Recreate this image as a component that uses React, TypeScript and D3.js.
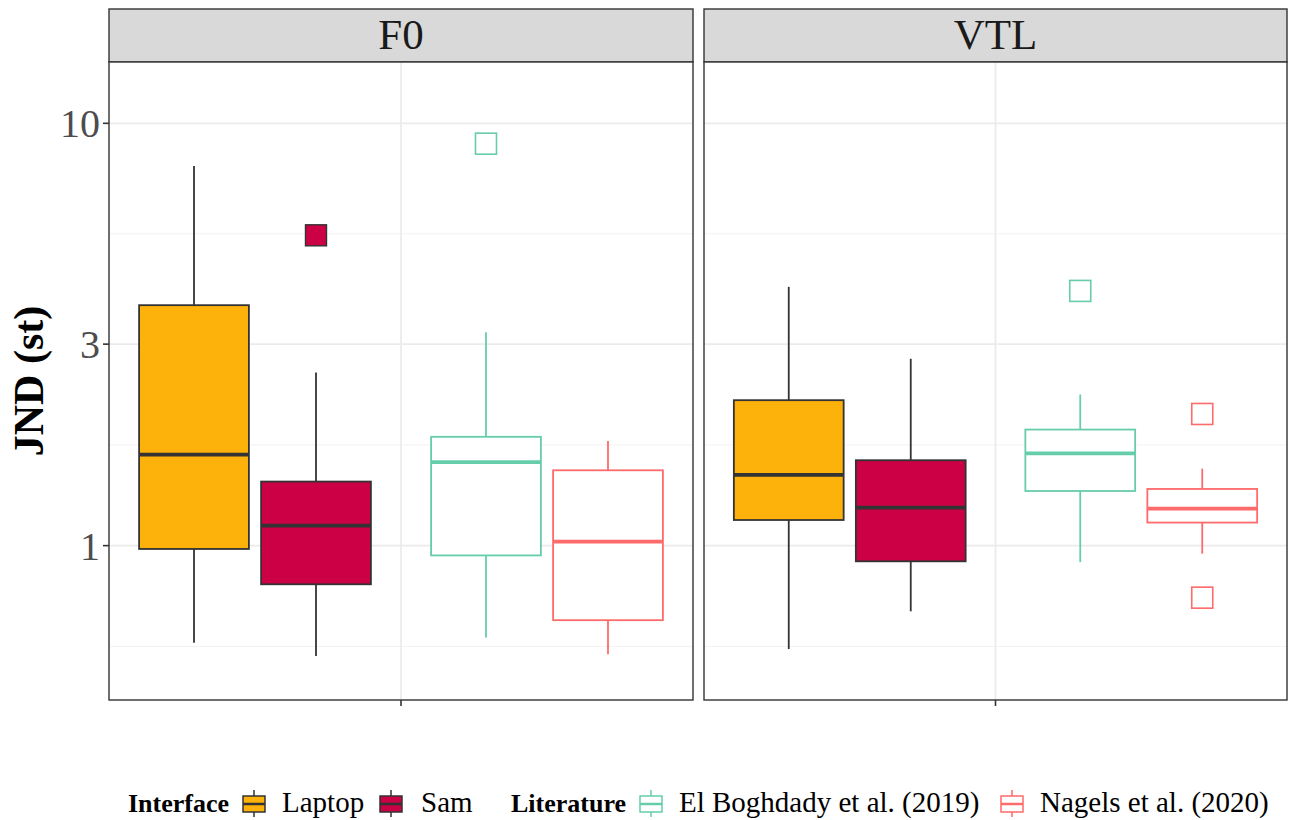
import React from 'react';
import * as d3 from 'd3';

// ---- data ----
const facets = ['F0', 'VTL'];
const groups = ['Interface', 'Literature'];
const seriesNames = ['Laptop', 'Sam', 'El Boghdady et al. (2019)', 'Nagels et al. (2020)'];
const seriesGroup = ['Interface', 'Interface', 'Literature', 'Literature'];

// [ymin, lower, middle, upper, ymax]
const f0Stats = [
  [0.589, 0.982, 1.643, 3.71, 7.92],
  [0.548, 0.81, 1.115, 1.418, 2.57],
  [0.606, 0.948, 1.576, 1.81, 3.2],
  [0.553, 0.666, 1.022, 1.508, 1.77],
];
const vtlStats = [
  [0.569, 1.15, 1.47, 2.21, 4.1],
  [0.699, 0.918, 1.23, 1.593, 2.77],
  [0.914, 1.347, 1.654, 1.883, 2.28],
  [0.957, 1.134, 1.224, 1.362, 1.522],
];
const f0Outliers = [[], [5.43], [8.95], []];
const vtlOutliers = [[], [], [4.01], [2.05, 0.753]];

const yBreaks = [1, 3, 10];
const yLimits = [0.431, 13.97];

// ---- styling ----
const fills = ['#FDB10B', '#CC0044', 'none', 'none'];
const strokes = ['#333333', '#333333', '#66CDAA', '#FF6A6A'];
const FONT = '"Liberation Serif", "Times New Roman", serif';

const W = 1291;
const H = 820;
const panelTop = 62;
const panelBottom = 700;
const stripTop = 9;
const panels = [
  { x0: 109, x1: 693 },
  { x0: 704, x1: 1287 },
];

const App: React.FC = () => {
  const y = d3.scaleLog().domain(yLimits).range([panelBottom, panelTop]);
  const ext = [1 / 3, ...yBreaks];
  const minorBreaks = d3.pairs(ext).map(([a, b]) => Math.sqrt(a * b));

  const statsByFacet = [f0Stats, vtlStats];
  const outliersByFacet = [f0Outliers, vtlOutliers];

  // legend layout
  const legendItems = [
    { title: 'Interface', tx: 128, items: [{ i: 0, kx: 243, lx: 282 }, { i: 1, kx: 380, lx: 421 }] },
    { title: 'Literature', tx: 511, items: [{ i: 2, kx: 640, lx: 679 }, { i: 3, kx: 1001, lx: 1040 }] },
  ];

  return (
    <svg width={W} height={H} style={{ position: 'absolute', left: 0, top: 0, background: '#fff' }} fontFamily={FONT}>
      <rect width={W} height={H} fill="#fff" />
      {facets.map((facet, fi) => {
        const p = panels[fi];
        const outer = d3.scaleBand<string>().domain(groups).range([p.x0, p.x1]);
        const cx = (p.x0 + p.x1) / 2;
        const stats = statsByFacet[fi];
        const outs = outliersByFacet[fi];
        return (
          <g key={facet}>
            {/* strip */}
            <rect x={p.x0} y={stripTop} width={p.x1 - p.x0} height={panelTop - stripTop} fill="#D9D9D9" stroke="#333" strokeWidth={1.4} />
            <text x={cx} y={49} textAnchor="middle" fontSize={43} fill="#1A1A1A">{facet}</text>
            {/* panel background + grid */}
            <rect x={p.x0} y={panelTop} width={p.x1 - p.x0} height={panelBottom - panelTop} fill="#fff" />
            {minorBreaks.map((b) => (
              <line key={'mi' + b} x1={p.x0} x2={p.x1} y1={y(b)} y2={y(b)} stroke="#F2F2F2" strokeWidth={1} />
            ))}
            {yBreaks.map((b) => (
              <line key={'ma' + b} x1={p.x0} x2={p.x1} y1={y(b)} y2={y(b)} stroke="#EBEBEB" strokeWidth={1.8} />
            ))}
            <line x1={cx} x2={cx} y1={panelTop} y2={panelBottom} stroke="#EBEBEB" strokeWidth={1.8} />
            {/* boxes */}
            {seriesNames.map((s, si) => {
              const g = seriesGroup[si];
              const members = seriesNames.filter((_, k) => seriesGroup[k] === g);
              const gc = (outer(g) as number) + outer.bandwidth() / 2;
              const inner = d3.scaleBand<string>().domain(members).range([gc - 122, gc + 122]).paddingInner(0.1).paddingOuter(0.05);
              const bx = inner(s) as number;
              const bw = inner.bandwidth();
              const mx = bx + bw / 2;
              const [ymin, lo, mid, up, ymax] = stats[si];
              const col = strokes[si];
              const filled = fills[si] !== 'none';
              return (
                <g key={s}>
                  <line x1={mx} x2={mx} y1={y(up)} y2={y(ymax)} stroke={col} strokeWidth={1.8} />
                  <line x1={mx} x2={mx} y1={y(lo)} y2={y(ymin)} stroke={col} strokeWidth={1.8} />
                  <rect x={bx} y={y(up)} width={bw} height={y(lo) - y(up)} fill={filled ? fills[si] : '#fff'} stroke={col} strokeWidth={1.8} />
                  <line x1={bx} x2={bx + bw} y1={y(mid)} y2={y(mid)} stroke={col} strokeWidth={3.8} />
                  {outs[si].map((o, oi) => (
                    <rect
                      key={oi}
                      x={mx - 10.5}
                      y={y(o) - 10.5}
                      width={21}
                      height={21}
                      fill={filled ? fills[si] : 'none'}
                      stroke={col}
                      strokeWidth={filled ? 1.4 : 1.6}
                    />
                  ))}
                </g>
              );
            })}
            {/* panel border */}
            <rect x={p.x0} y={panelTop} width={p.x1 - p.x0} height={panelBottom - panelTop} fill="none" stroke="#333" strokeWidth={1.4} />
            {/* x tick */}
            <line x1={cx} x2={cx} y1={panelBottom} y2={panelBottom + 6} stroke="#333" strokeWidth={1.6} />
          </g>
        );
      })}

      {/* y axis */}
      {yBreaks.map((b) => (
        <g key={'yt' + b}>
          <line x1={103} x2={109} y1={y(b)} y2={y(b)} stroke="#333" strokeWidth={1.6} />
          <text x={100} y={y(b)} dy="0.35em" textAnchor="end" fontSize={40} fill="#4D4D4D">{b}</text>
        </g>
      ))}
      <text
        transform={`translate(43, ${(panelTop + panelBottom) / 2}) rotate(-90)`}
        textAnchor="middle"
        fontSize={42}
        fontWeight="bold"
        fill="#000"
      >
        JND (st)
      </text>

      {/* legend */}
      {legendItems.map((lg) => (
        <g key={lg.title}>
          <text x={lg.tx} y={812} fontSize={26} fontWeight="bold" fill="#000">{lg.title}</text>
          {lg.items.map(({ i, kx, lx }) => {
            const col = strokes[i];
            const filled = fills[i] !== 'none';
            const kw = 22;
            const km = kx + kw / 2;
            return (
              <g key={i}>
                <line x1={km} x2={km} y1={790} y2={817} stroke={col} strokeWidth={1.5} />
                <rect x={kx} y={796} width={kw} height={16} fill={filled ? fills[i] : '#fff'} stroke={col} strokeWidth={1.5} />
                <line x1={kx} x2={kx + kw} y1={804} y2={804} stroke={col} strokeWidth={2.5} />
                <text x={lx} y={812} fontSize={29} fill="#000">{seriesNames[i]}</text>
              </g>
            );
          })}
        </g>
      ))}
    </svg>
  );
};

export default App;
